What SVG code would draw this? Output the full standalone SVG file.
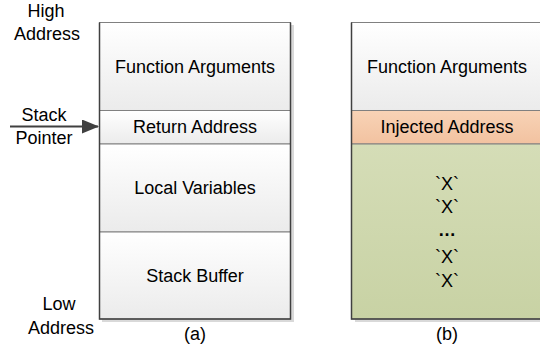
<svg xmlns="http://www.w3.org/2000/svg" width="540" height="353" viewBox="0 0 540 353">
<defs>
<linearGradient id="gGray" x1="0" y1="0" x2="0" y2="1"><stop offset="0" stop-color="#ffffff"/><stop offset="1" stop-color="#ebebeb"/></linearGradient>
<linearGradient id="gOrange" x1="0" y1="0" x2="0" y2="1"><stop offset="0" stop-color="#f8d3b6"/><stop offset="1" stop-color="#f2c2a0"/></linearGradient>
<linearGradient id="gGreen" x1="0" y1="0" x2="0" y2="1"><stop offset="0" stop-color="#d5ddb7"/><stop offset="1" stop-color="#c8d2a4"/></linearGradient>
<marker id="arr" markerWidth="17" markerHeight="14" refX="16" refY="7" orient="auto" markerUnits="userSpaceOnUse" viewBox="0 0 17 14">
<path d="M0,0 L17,7 L0,14 z" fill="#404040"/>
</marker>
</defs>
<style>
text{font-family:"Liberation Sans",Arial,sans-serif;font-size:18px;fill:#000;text-anchor:middle}
.cell{stroke:#808080;stroke-width:1}
.shadow{fill:#d9d9d9}
.edge{stroke:#404040;stroke-width:1.5;fill:none}
</style>
<g id="labels">
<text x="46" y="17">High</text>
<text x="47" y="40">Address</text>
<text x="44" y="121">Stack</text>
<text x="44" y="144">Pointer</text>
<text x="59" y="310">Low</text>
<text x="61" y="334">Address</text>
<text x="195" y="340">(a)</text>
<text x="447" y="340">(b)</text>
</g>
<g id="stack-a">
<rect class="shadow" x="102" y="25" width="192" height="297"/>
<g id="a-func"><rect class="cell" x="99.5" y="22.5" width="191" height="88" fill="url(#gGray)"/><text x="195" y="73">Function Arguments</text></g>
<g id="a-ret"><rect class="cell" x="99.5" y="110.5" width="191" height="33.5" fill="url(#gGray)"/><text x="195" y="133">Return Address</text></g>
<g id="a-local"><rect class="cell" x="99.5" y="144" width="191" height="88" fill="url(#gGray)"/><text x="195" y="194">Local Variables</text></g>
<g id="a-buf"><rect class="cell" x="99.5" y="232" width="191" height="87" fill="url(#gGray)"/><text x="195" y="282">Stack Buffer</text></g>
<path class="edge" d="M99.5,22.5 V319 H290.5 V22.5"/>
</g>
<g id="stack-b">
<rect class="shadow" x="355" y="25" width="192" height="297"/>
<g id="b-func"><rect class="cell" x="351.5" y="22.5" width="192" height="88" fill="url(#gGray)"/><text x="447" y="73">Function Arguments</text></g>
<g id="b-inj"><rect class="cell" x="351.5" y="110.5" width="192" height="33.5" fill="url(#gOrange)"/><text x="447" y="133">Injected Address</text></g>
<g id="b-fill"><rect class="cell" x="351.5" y="144" width="192" height="175" fill="url(#gGreen)"/>
<text x="447" y="190">`X`</text>
<text x="447" y="213">`X`</text>
<text x="447" y="236" font-weight="bold">…</text>
<text x="447" y="263">`X`</text>
<text x="447" y="287">`X`</text>
</g>
<path class="edge" d="M351.5,22.5 V319 H545"/>
</g>
<g id="connectors">
<line x1="10" y1="126.5" x2="98" y2="126.5" stroke="#404040" stroke-width="2" marker-end="url(#arr)"/>
</g>
</svg>
